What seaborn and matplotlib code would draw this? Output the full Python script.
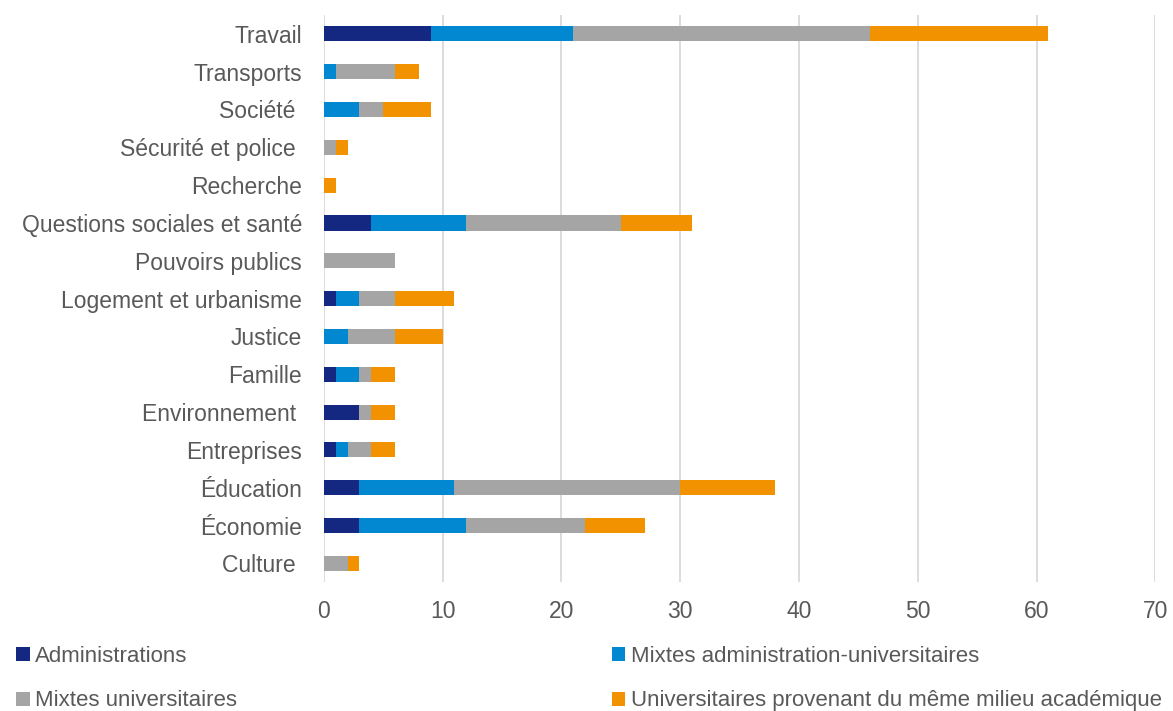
import numpy as np
import pandas as pd
import matplotlib
matplotlib.use("Agg")
import matplotlib.pyplot as plt
import seaborn as sns
from matplotlib.patches import Patch

sns.set_style("white")
plt.rcParams['font.family'] = ['Liberation Sans', 'DejaVu Sans']

categories = ['Travail', 'Transports', 'Société ', 'Sécurité et police ', 'Recherche',
              'Questions sociales et santé', 'Pouvoirs publics', 'Logement et urbanisme',
              'Justice', 'Famille', 'Environnement ', 'Entreprises', 'Éducation',
              'Économie', 'Culture ']
administrations = [9, 0, 0, 0, 0, 4, 0, 1, 0, 1, 3, 1, 3, 3, 0]
mixtes_admin_univ = [12, 1, 3, 0, 0, 8, 0, 2, 2, 2, 0, 1, 8, 9, 0]
mixtes_univ = [25, 5, 2, 1, 0, 13, 6, 3, 4, 1, 1, 2, 19, 10, 2]
univ_meme_milieu = [15, 2, 4, 1, 1, 6, 0, 5, 4, 2, 2, 2, 8, 5, 1]

series_names = ['Administrations', 'Mixtes administration-universitaires',
                'Mixtes universitaires', 'Universitaires provenant du même milieu académique']
colors = ['#142882', '#0288D1', '#A5A5A5', '#F39200']

df = pd.DataFrame({'cat': categories,
                   series_names[0]: administrations,
                   series_names[1]: mixtes_admin_univ,
                   series_names[2]: mixtes_univ,
                   series_names[3]: univ_meme_milieu})
cum = df[series_names].cumsum(axis=1)

fig = plt.figure(figsize=(11.73, 7.11), dpi=100)
ax = fig.add_axes([0.276, 0.181, 0.709, 0.798])

# stacked bars: draw cumulative totals from the outermost inwards
for name, col in reversed(list(zip(series_names, colors))):
    sns.barplot(x=cum[name], y=df['cat'], color=col, orient='h', width=0.4,
                ax=ax, saturation=1, edgecolor='none')

ax.set_xlim(0, 70)
ax.set_xticks(range(0, 71, 10))
ax.set_xlabel('')
ax.set_ylabel('')
ax.xaxis.grid(True, color='#D9D9D9', linewidth=1.3)
ax.set_axisbelow(True)
for s in ax.spines.values():
    s.set_visible(False)
ax.tick_params(axis='both', length=0, labelsize=16.5, colors='#595959')
ax.tick_params(axis='x', pad=13)
ax.tick_params(axis='y', pad=15.5)

handles = [Patch(facecolor=c, edgecolor='none') for c in colors]
order = [0, 2, 1, 3]
fig.legend([handles[i] for i in order], [series_names[i] for i in order],
           loc='upper left', bbox_to_anchor=(-0.003, 0.12), ncol=2, frameon=False,
           fontsize=16, labelcolor='#595959', handlelength=0.6, handleheight=0.6,
           handletextpad=0.25, columnspacing=16.85, labelspacing=1.07)

fig.savefig('out.png', dpi=100)
